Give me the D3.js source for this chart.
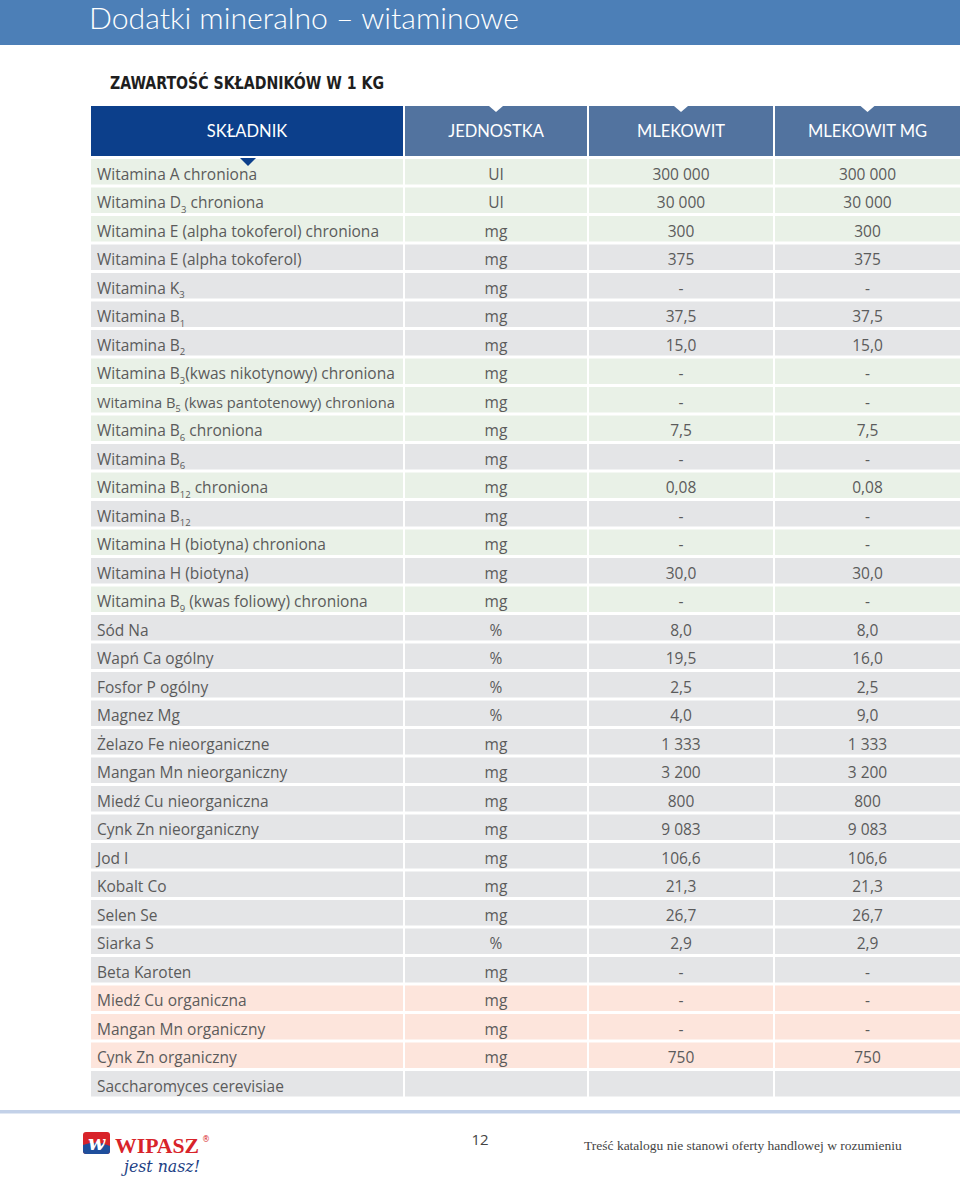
<!DOCTYPE html>
<html><head><meta charset="utf-8">
<script src="https://cdn.jsdelivr.net/npm/d3@7/dist/d3.min.js"></script>
<style>html,body{margin:0;padding:0;background:#fff;}</style>
</head><body><div id="chart"></div>
<script>
const pageTitle = "Dodatki mineralno – witaminowe";
const sectionTitle = "ZAWARTOŚĆ SKŁADNIKÓW W 1 KG";
const columnHeaders = ["SKŁADNIK", "JEDNOSTKA", "MLEKOWIT", "MLEKOWIT MG"];
const ingredients = [
  "Witamina A chroniona", "Witamina D_3 chroniona", "Witamina E (alpha tokoferol) chroniona",
  "Witamina E (alpha tokoferol)", "Witamina K_3", "Witamina B_1", "Witamina B_2",
  "Witamina B_3(kwas nikotynowy) chroniona", "Witamina B_5 (kwas pantotenowy) chroniona",
  "Witamina B_6 chroniona", "Witamina B_6", "Witamina B_12 chroniona", "Witamina B_12",
  "Witamina H (biotyna) chroniona", "Witamina H (biotyna)", "Witamina B_9 (kwas foliowy) chroniona",
  "Sód Na", "Wapń Ca ogólny", "Fosfor P ogólny", "Magnez Mg", "Żelazo Fe nieorganiczne",
  "Mangan Mn nieorganiczny", "Miedź Cu nieorganiczna", "Cynk Zn nieorganiczny", "Jod I",
  "Kobalt Co", "Selen Se", "Siarka S", "Beta Karoten", "Miedź Cu organiczna",
  "Mangan Mn organiczny", "Cynk Zn organiczny", "Saccharomyces cerevisiae"
];
const units = ["UI","UI","mg","mg","mg","mg","mg","mg","mg","mg","mg","mg","mg","mg","mg","mg",
  "%","%","%","%","mg","mg","mg","mg","mg","mg","mg","%","mg","mg","mg","mg",""];
const mlekowit = ["300 000","30 000","300","375","-","37,5","15,0","-","-","7,5","-","0,08","-","-","30,0","-",
  "8,0","19,5","2,5","4,0","1 333","3 200","800","9 083","106,6","21,3","26,7","2,9","-","-","-","750",""];
const mlekowitMg = ["300 000","30 000","300","375","-","37,5","15,0","-","-","7,5","-","0,08","-","-","30,0","-",
  "8,0","16,0","2,5","9,0","1 333","3 200","800","9 083","106,6","21,3","26,7","2,9","-","-","-","750",""];
// row group: c = chroniona (protected), n = normal, o = organic
const rowGroups = ["c","c","c","n","n","n","n","c","c","c","n","c","n","c","n","c",
  "n","n","n","n","n","n","n","n","n","n","n","n","n","o","o","o","n"];
const footerPage = "12";
const footerNote = "Treść katalogu nie stanowi oferty handlowej w rozumieniu";

const W = 960, H = 1180;
const svg = d3.select("#chart").append("svg").attr("width", W).attr("height", H)
  .style("display","block").style("background","#fff");

const bodyFont = "'Open Sans', 'Noto Sans', sans-serif";
const textColor = "#5b5b5b";

// banner
svg.append("rect").attr("x",0).attr("y",0).attr("width",W).attr("height",45).attr("fill","#4c7fb7");
svg.append("text").attr("x",89).attr("y",29).text(pageTitle)
  .attr("font-family","'Lato', 'Open Sans', sans-serif").attr("font-weight",300)
  .attr("font-size",29).attr("fill","#fff")
  .attr("textLength",430).attr("lengthAdjust","spacingAndGlyphs");

svg.append("text").attr("x",110).attr("y",89).text(sectionTitle)
  .attr("font-family","'DejaVu Sans Condensed','DejaVu Sans',sans-serif").attr("font-stretch","condensed")
  .attr("font-weight","bold").attr("font-size",18.5).attr("fill","#1e1e1e")
  .attr("textLength",274).attr("lengthAdjust","spacingAndGlyphs");

// columns
const colEdges = [91, 405, 589, 775, 962];
const colGap = 2;
const cols = columnHeaders.map((h,i)=>({h, x0: colEdges[i], x1: colEdges[i+1]-colGap}));

// header
const hdrTop = 106, hdrBot = 156;
const hdr = svg.append("g");
cols.forEach((c,i)=>{
  hdr.append("rect").attr("x",c.x0).attr("y",hdrTop).attr("width",c.x1-c.x0).attr("height",hdrBot-hdrTop)
    .attr("fill", i===0 ? "#0c3f8b" : "#52739f");
  const cx = (c.x0+c.x1)/2;
  if(i>0){
    hdr.append("path").attr("d",`M${cx-7},${hdrTop} L${cx+7},${hdrTop} L${cx},${hdrTop+6} Z`).attr("fill","#fff");
  }
  hdr.append("text").attr("x",cx).attr("y",137).attr("text-anchor","middle").text(c.h)
    .attr("font-family","'Lato', 'Open Sans', sans-serif").attr("font-size",16.5).attr("fill","#fff");
});

// rows
const n = ingredients.length;
const y = d3.scaleBand().domain(d3.range(n)).range([159, 159 + 28.5*(n - 3/28.5)]).paddingInner(3/28.5).paddingOuter(0);
const fillFor = {c:"#e9f1e7", n:"#e4e5e7", o:"#fde5dc"};

const rows = svg.append("g").selectAll("g").data(d3.range(n)).join("g")
  .attr("transform", i=>`translate(0,${y(i)})`);

cols.forEach((c)=>{
  rows.append("rect").attr("x",c.x0).attr("y",0).attr("width",c.x1-c.x0).attr("height",y.bandwidth())
    .attr("fill", i=>fillFor[rowGroups[i]]);
});

// ingredient names with subscripts
const maxNameW = cols[0].x1 - 97 - 8;
const baseSize = 15.5;
rows.append("text").attr("x",97).attr("y",20.5)
  .attr("font-family",bodyFont).attr("font-size",baseSize).attr("fill",textColor)
  .each(function(i){
    const t = d3.select(this);
    const parts = ingredients[i].split(/_(\d+)/);
    parts.forEach((p,k)=>{
      if(!p) return;
      if(k%2===1){
        t.append("tspan").attr("class","sub").text(p).attr("font-size",9.5).attr("dy",4.5);
      } else {
        const ts = t.append("tspan").text(p);
        if(k>0) ts.attr("dy",-4.5);
      }
    });
    const w = this.getComputedTextLength();
    if(w > maxNameW){
      const s = maxNameW / w;
      t.attr("font-size", baseSize*s);
      t.selectAll("tspan.sub").attr("font-size", 9.5*s);
    }
  });

const valueCols = [units, mlekowit, mlekowitMg];
valueCols.forEach((arr,j)=>{
  const c = cols[j+1];
  rows.append("text").attr("x",(c.x0+c.x1)/2).attr("y",20.5).attr("text-anchor","middle")
    .attr("font-family",bodyFont).attr("font-size",15.5).attr("fill",textColor)
    .text(i=>arr[i]);
});

// triangle under first header
svg.append("path").attr("d",`M${240},158 L${256},158 L${248},166 Z`).attr("fill","#0c3f8b");

// bottom rule
svg.append("rect").attr("x",0).attr("y",1110).attr("width",W).attr("height",3.5).attr("fill","#c3d1e8");

// footer
svg.append("text").attr("x",480).attr("y",1145).attr("text-anchor","middle").text(footerPage)
  .attr("font-family",bodyFont).attr("font-size",15).attr("fill","#444");
svg.append("text").attr("x",584).attr("y",1150).text(footerNote)
  .attr("font-family","'Liberation Serif','DejaVu Serif',serif").attr("font-size",13.5).attr("fill","#444");

// logo
const logo = svg.append("g").attr("transform","translate(83,1132)");
logo.append("rect").attr("x",0).attr("y",0).attr("width",27).attr("height",22).attr("rx",3).attr("fill","#d8232a");
logo.append("path").attr("d","M0,13 Q14,8 27,14 L27,19 Q27,22 24,22 L3,22 Q0,22 0,19 Z").attr("fill","#1f4f9c");
logo.append("text").attr("x",13.5).attr("y",18).attr("text-anchor","middle").text("w")
  .attr("font-family","'DejaVu Serif',serif").attr("font-style","italic").attr("font-weight","bold")
  .attr("font-size",20).attr("fill","#fff");
logo.append("text").attr("x",32).attr("y",21).text("WIPASZ")
  .attr("font-family","'Liberation Serif','DejaVu Serif',serif").attr("font-weight","bold")
  .attr("font-size",22).attr("fill","#d8232a").attr("textLength",84).attr("lengthAdjust","spacingAndGlyphs");
logo.append("text").attr("x",119).attr("y",10).text("®")
  .attr("font-family","'DejaVu Sans',sans-serif").attr("font-size",8).attr("fill","#d8232a");
logo.append("text").attr("x",41).attr("y",40).text("jest nasz!")
  .attr("font-family","'DejaVu Serif',serif").attr("font-style","italic")
  .attr("font-size",16).attr("fill","#1d3f84").attr("textLength",76).attr("lengthAdjust","spacingAndGlyphs");
</script>
</body></html>
